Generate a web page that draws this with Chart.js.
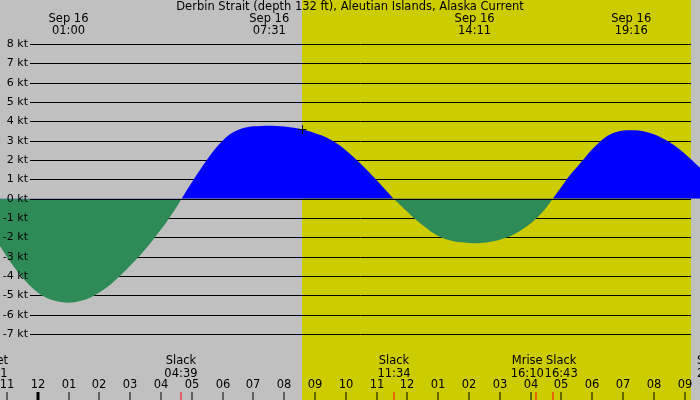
<!DOCTYPE html>
<html>
<head>
<meta charset="utf-8">
<script src="https://cdn.jsdelivr.net/npm/chart.js@4/dist/chart.umd.min.js"></script>
<style>
html,body{margin:0;padding:0;background:#c0c0c0;}
#wrap{width:700px;height:400px;}
</style>
</head>
<body>
<div id="wrap"><canvas id="c" width="700" height="400"></canvas></div>
<script>
// ---- data (hours since 00:00 Sep 16, local) ----
const title = 'Derbin Strait (depth 132 ft), Aleutian Islands, Alaska Current';
const hours = [-1.25,-1.0,-0.75,-0.5,-0.25,0,0.25,0.5,0.75,1.0,1.25,1.5,1.75,2.0,2.25,2.5,2.75,3.0,3.25,3.5,3.75,4.0,4.25,4.5,4.67,
  4.75,5.0,5.25,5.5,5.75,6.0,6.25,6.5,6.75,7.0,7.25,7.5,7.75,8.0,8.25,8.5,8.75,9.0,9.25,9.5,9.75,10.0,10.25,10.5,10.75,11.0,11.25,11.5,11.56,
  11.75,12.0,12.25,12.5,12.75,13.0,13.25,13.5,13.75,14.0,14.25,14.5,14.75,15.0,15.25,15.5,15.75,16.0,16.25,16.5,16.72,
  17.0,17.25,17.5,17.75,18.0,18.25,18.5,18.75,19.0,19.25,19.5,19.75,20.0,20.25,20.5,20.75,21.0,21.25,21.5];
const speeds = [-2.38,-3.0,-3.57,-4.08,-4.5,-4.85,-5.1,-5.26,-5.35,-5.38,-5.34,-5.24,-5.08,-4.86,-4.58,-4.24,-3.87,-3.47,-3.05,-2.6,-2.12,-1.6,-1.05,-0.46,0,
  0.2,0.83,1.44,2.02,2.56,3.0,3.34,3.55,3.68,3.74,3.76,3.77,3.76,3.73,3.68,3.61,3.51,3.39,3.25,3.06,2.81,2.51,2.16,1.78,1.38,0.96,0.53,0.09,0,
  -0.3,-0.68,-1.05,-1.38,-1.68,-1.93,-2.1,-2.2,-2.26,-2.29,-2.3,-2.28,-2.22,-2.13,-2.0,-1.81,-1.57,-1.28,-0.92,-0.48,0,
  0.6,1.16,1.62,2.09,2.55,2.95,3.25,3.43,3.52,3.54,3.52,3.45,3.33,3.15,2.93,2.66,2.34,1.98,1.6];

const ktTicks = [8,7,6,5,4,3,2,1,0,-1,-2,-3,-4,-5,-6,-7];
const hourTicks = [-1,0,1,2,3,4,5,6,7,8,9,10,11,12,13,14,15,16,17,18,19,20,21];
const hourLabels = ['11','12','01','02','03','04','05','06','07','08','09','10','11','12','01','02','03','04','05','06','07','08','09'];

const sunrise = 8.58, sunset = 21.21;

const topTimes = [1.0, 7.517, 14.183, 19.267];
const topDates = ['Sep 16','Sep 16','Sep 16','Sep 16'];
const topLabels = ['01:00','07:31','14:11','19:16'];

const eventTimes = [4.65, 11.567, 16.167, 16.717];
const eventNames = ['Slack','Slack','Mrise','Slack'];
const eventLabels = ['04:39','11:34','16:10','16:43'];

const markerTime = 8.58, markerValue = 3.58;

const X_MIN = -1.224, X_MAX = 21.5;
const Y_MIN = -10.414, Y_MAX = 10.276;

const GRAY = 'rgb(192,192,192)', YELLOW = 'rgb(204,204,0)';
const FONT = '11.5px "DejaVu Sans"';
const KT_FONT = '11px "DejaVu Sans"';

const bgPlugin = {
  id: 'bg',
  beforeDatasetsDraw(chart) {
    const ctx = chart.ctx, xs = chart.scales.x, ys = chart.scales.y;
    const W = chart.width, H = chart.height;
    ctx.save();
    ctx.fillStyle = GRAY; ctx.fillRect(0,0,W,H);
    const x0 = Math.round(xs.getPixelForValue(sunrise)), x1 = Math.round(xs.getPixelForValue(sunset));
    ctx.fillStyle = YELLOW; ctx.fillRect(x0,0,x1-x0,H);
    // grid lines
    ctx.strokeStyle = '#000'; ctx.lineWidth = 1;
    ktTicks.forEach(k => {
      const y = Math.round(ys.getPixelForValue(k)) + 0.5;
      ctx.beginPath(); ctx.moveTo(30,y); ctx.lineTo(x1,y); ctx.stroke();
    });
    ctx.restore();
  },
  afterDatasetsDraw(chart) {
    const ctx = chart.ctx, xs = chart.scales.x, ys = chart.scales.y;
    const x1 = Math.round(xs.getPixelForValue(sunset));
    ctx.save();
    ctx.strokeStyle = '#000'; ctx.lineWidth = 1;
    const y0 = Math.round(ys.getPixelForValue(0)) + 0.5;
    ctx.beginPath(); ctx.moveTo(30,y0); ctx.lineTo(x1,y0); ctx.stroke();
    // kt labels
    ctx.font = KT_FONT; ctx.fillStyle = '#000'; ctx.textBaseline = 'middle'; ctx.textAlign = 'right';
    ktTicks.forEach(k => {
      const y = Math.round(ys.getPixelForValue(k));
      ctx.fillText(k + ' kt', 28, y + 0.5);
    });
    ctx.font = FONT;
    // title
    ctx.textAlign = 'center';
    ctx.fillText(title, 350, 7);
    // top labels
    topTimes.forEach((t,i) => {
      const x = xs.getPixelForValue(t);
      ctx.fillText(topDates[i], x, 19);
      ctx.fillText(topLabels[i], x, 31);
    });
    // bottom event labels
    const shifts = [0,0,-8.5,8.5];
    eventTimes.forEach((t,i) => {
      const x = xs.getPixelForValue(t) + shifts[i];
      ctx.fillText(eventNames[i], x, 361.5);
      ctx.fillText(eventLabels[i], x, 374);
    });
    // sunset labels at edges
    ctx.textAlign = 'right';
    ctx.fillText('Sunset', 8, 361.5);
    ctx.fillText('21:11', 7.5, 374);
    ctx.textAlign = 'left';
    ctx.fillText('Sunset', 697, 361.5);
    ctx.fillText('21:12', 697, 374);
    // hour labels + ticks
    ctx.textAlign = 'center';
    hourTicks.forEach((h,i) => {
      const x = Math.round(xs.getPixelForValue(h));
      ctx.fillStyle = '#000';
      ctx.fillText(hourLabels[i], x, 385.5);
      if (h === 0) ctx.fillRect(x-1.5, 392, 3, 8);
      else ctx.fillRect(x-0.5, 392, 1, 8);
    });
    ctx.fillStyle = 'rgb(255,0,0)';
    eventTimes.forEach(t => {
      const x = Math.round(xs.getPixelForValue(t));
      ctx.fillRect(x-0.5, 392, 1, 8);
    });
    // marker
    const mx = Math.round(xs.getPixelForValue(markerTime)) + 0.5, my = Math.round(ys.getPixelForValue(markerValue)) + 0.5;
    ctx.strokeStyle = '#000';
    ctx.beginPath(); ctx.moveTo(mx-4,my); ctx.lineTo(mx+4,my); ctx.moveTo(mx,my-4.5); ctx.lineTo(mx,my+4.5); ctx.stroke();
    ctx.restore();
  }
};

new Chart(document.getElementById('c'), {
  type: 'line',
  data: {
    datasets: [{
      data: hours.map((h,i) => ({x:h, y:speeds[i]})),
      borderWidth: 0,
      borderColor: 'rgba(0,0,0,0)',
      pointRadius: 0,
      cubicInterpolationMode: 'monotone',
      fill: { target: { value: 0 }, above: 'rgb(0,0,255)', below: 'rgb(46,139,87)' }
    }]
  },
  options: {
    responsive: false,
    animation: false,
    devicePixelRatio: 1,
    layout: { padding: 0 },
    plugins: { legend: { display: false }, tooltip: { enabled: false }, title: { display: false } },
    scales: {
      x: { type: 'linear', min: X_MIN, max: X_MAX, display: false },
      y: { type: 'linear', min: Y_MIN, max: Y_MAX, display: false }
    }
  },
  plugins: [bgPlugin]
});
</script>
</body>
</html>
